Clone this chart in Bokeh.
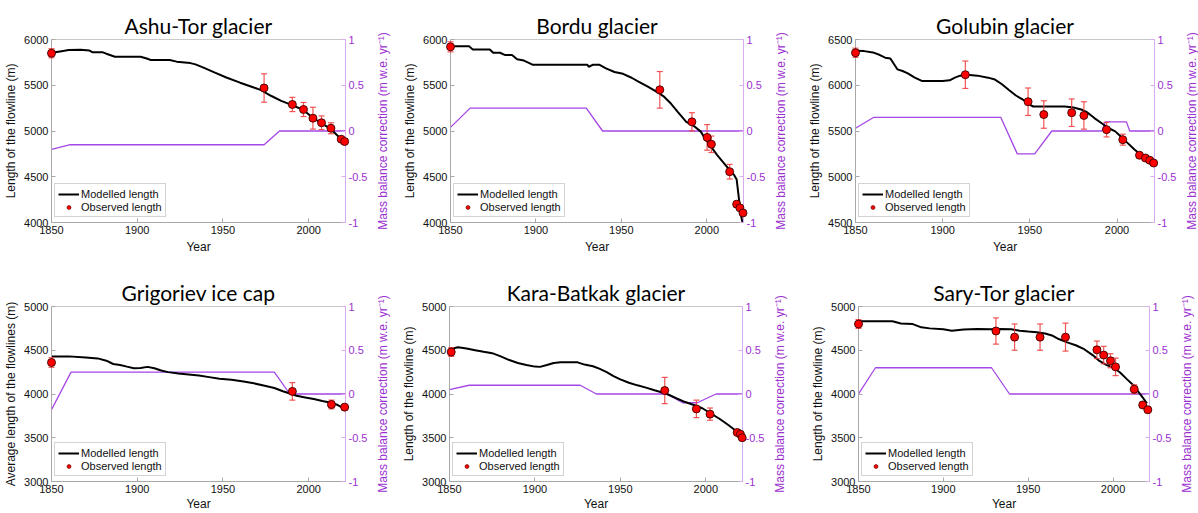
import math
from bokeh.plotting import figure
from bokeh.models import (Range1d, LinearAxis, FixedTicker, ColumnDataSource,
                          Legend, LegendItem, CustomJSTickFormatter)
from bokeh.core.properties import value
from bokeh.layouts import row, column
from bokeh.embed import file_html
from bokeh.resources import INLINE

# ---------------- data ----------------
year_ticks = [1850, 1900, 1950, 2000]
mb_ticks = [-1, -0.5, 0, 0.5, 1]

ashu_model_year = [1850, 1855, 1860, 1867, 1872, 1874, 1880, 1882, 1887, 1902, 1906, 1908, 1919, 1923,
                   1931, 1934, 1939, 1945, 1952, 1960, 1968, 1972, 1978, 1984, 1990, 1997, 2002, 2007,
                   2013, 2018, 2021]
ashu_model_len = [5855, 5870, 5885, 5888, 5880, 5860, 5860, 5845, 5812, 5812, 5790, 5775, 5775, 5758,
                  5742, 5728, 5690, 5640, 5585, 5528, 5475, 5450, 5385, 5330, 5285, 5230, 5150, 5090,
                  5020, 4930, 4870]
ashu_obs_year = [1850, 1974, 1990.5, 1997, 2002.5, 2007.5, 2013, 2019, 2021]
ashu_obs_len = [5850, 5470, 5290, 5235, 5140, 5090, 5030, 4910, 4885]
ashu_obs_err = [50, 155, 78, 77, 119, 75, 60, 30, 30]
ashu_mb_year = [1850, 1861, 1974, 1983, 2021.5]
ashu_mb_val = [-0.2, -0.15, -0.15, 0, 0]

bordu_model_year = [1850, 1861, 1863, 1873, 1875, 1879, 1882, 1886, 1889, 1893, 1898, 1930, 1931,
                    1933.5, 1937, 1941, 1946, 1951, 1956, 1960, 1965.5, 1970, 1975, 1979, 1983, 1988,
                    1993, 1996.5, 1999.4, 2003, 2006, 2010, 2014, 2016, 2017.5, 2019, 2020, 2021]
bordu_model_len = [5925, 5925, 5890, 5890, 5855, 5855, 5830, 5830, 5785, 5770, 5725, 5725, 5702,
                   5725, 5725, 5684, 5645, 5625, 5582, 5540, 5484, 5436, 5375, 5300, 5210, 5100,
                   5047, 4993, 4905, 4815, 4740, 4650, 4560, 4520, 4470, 4230, 4085, 3990]
bordu_obs_year = [1850, 1972.5, 1991.3, 2000.2, 2002.7, 2013.4, 2017.5, 2019.4, 2021.2]
bordu_obs_len = [5920, 5450, 5100, 4930, 4855, 4555, 4200, 4160, 4105]
bordu_obs_err = [55, 200, 100, 140, 90, 80, 30, 25, 25]
bordu_mb_year = [1850, 1861.5, 1929.5, 1939, 2021.5]
bordu_mb_val = [0.04, 0.25, 0.25, 0, 0]

golubin_model_year = [1850, 1855, 1860, 1864, 1867, 1870, 1874, 1877, 1880, 1884, 1888, 1900, 1904,
                      1907, 1910, 1914, 1920, 1926, 1930, 1934, 1938, 1942, 1946, 1950, 1952, 1955,
                      1970, 1975, 1980, 1983, 1987, 1991, 1995, 1999, 2002, 2006, 2010, 2014, 2018, 2021]
golubin_model_len = [6377, 6373, 6359, 6330, 6301, 6293, 6174, 6156, 6130, 6083, 6047, 6047, 6054,
                     6083, 6105, 6115, 6105, 6083, 6062, 6011, 5949, 5888, 5844, 5786, 5768, 5768,
                     5768, 5757, 5732, 5703, 5641, 5587, 5533, 5496, 5442, 5370, 5297, 5235, 5188, 5152]
golubin_obs_year = [1850, 1913, 1949, 1958, 1974, 1981, 1994, 2003.3, 2012.9, 2016.3, 2018.8, 2021]
golubin_obs_len = [6355, 6115, 5820, 5680, 5700, 5670, 5515, 5405, 5235, 5205, 5180, 5150]
golubin_obs_err = [50, 150, 150, 150, 150, 150, 80, 60, 30, 25, 25, 25]
golubin_mb_year = [1850, 1860.5, 1933.3, 1942.8, 1952.8, 1962.6, 1991.4, 1993.3, 2005.4, 2007.3, 2021.5]
golubin_mb_val = [0.03, 0.15, 0.15, -0.25, -0.25, 0, 0, 0.1, 0.1, 0, 0]

grig_model_year = [1850, 1860, 1870, 1877, 1882, 1886, 1890, 1894, 1898, 1902, 1906, 1910, 1914, 1918,
                   1924, 1930, 1936, 1942, 1948, 1955, 1962, 1968, 1975, 1980, 1985, 1989, 1993, 1998,
                   2003, 2008, 2013, 2017, 2021]
grig_model_len = [4430, 4430, 4418, 4407, 4381, 4343, 4332, 4313, 4295, 4298, 4310, 4295, 4268, 4250,
                  4234, 4223, 4212, 4193, 4174, 4163, 4144, 4122, 4092, 4069, 4032, 4006, 3979, 3961,
                  3942, 3919, 3901, 3874, 3829]
grig_obs_year = [1850, 1990.5, 2013.3, 2021]
grig_obs_len = [4360, 4030, 3880, 3850]
grig_obs_err = [55, 100, 50, 30]
grig_mb_year = [1850, 1861.4, 1980, 1989, 2021.5]
grig_mb_val = [-0.18, 0.25, 0.25, 0, 0]

kara_model_year = [1850, 1855, 1860, 1865, 1870, 1875, 1880, 1885, 1890, 1895, 1900, 1903, 1907, 1911,
                   1915, 1925, 1929, 1934, 1938, 1942, 1946, 1950, 1955, 1960, 1965, 1970, 1974, 1978,
                   1983, 1988, 1993, 1998, 2003, 2008, 2013, 2018, 2021]
kara_model_len = [4512, 4535, 4520, 4501, 4482, 4467, 4430, 4388, 4355, 4332, 4313, 4310, 4332, 4355,
                  4362, 4362, 4336, 4317, 4287, 4250, 4205, 4167, 4129, 4099, 4073, 4043, 4021, 3994,
                  3949, 3908, 3874, 3837, 3777, 3717, 3649, 3574, 3514]
kara_obs_year = [1851, 1976, 1994.5, 2002.5, 2018.4, 2020.3, 2021.3]
kara_obs_len = [4480, 4040, 3830, 3770, 3560, 3540, 3500]
kara_obs_err = [50, 150, 100, 70, 30, 30, 25]
kara_mb_year = [1850, 1861.5, 1926.5, 1936, 1977, 1986.5, 1995, 2006, 2021.5]
kara_mb_val = [0.05, 0.1, 0.1, 0, 0, -0.1, -0.1, 0, 0]

sary_model_year = [1850, 1870, 1875, 1882, 1887, 1892, 1900, 1905, 1912, 1920, 1928, 1933, 1940, 1945,
                   1950, 1955, 1960, 1964, 1968, 1973, 1978, 1983, 1988, 1992, 1996, 2000, 2004, 2008,
                   2012, 2016, 2020]
sary_model_len = [4832, 4832, 4806, 4799, 4762, 4750, 4739, 4724, 4736, 4743, 4739, 4743, 4739, 4724,
                  4713, 4706, 4691, 4669, 4628, 4590, 4557, 4512, 4445, 4378, 4333, 4303, 4248, 4173,
                  4099, 3998, 3894]
sary_obs_year = [1850, 1931, 1942, 1957, 1972, 1990.5, 1994.5, 1998.5, 2001.5, 2012.5, 2017.5, 2020.5]
sary_obs_len = [4800, 4720, 4650, 4650, 4650, 4505, 4445, 4380, 4310, 4055, 3875, 3820]
sary_obs_err = [50, 150, 150, 150, 160, 100, 100, 80, 100, 50, 30, 30]
sary_mb_year = [1850, 1860, 1928.4, 1939, 2021.5]
sary_mb_val = [0, 0.3, 0.3, 0, 0]

titles = ["Ashu-Tor glacier", "Bordu glacier", "Golubin glacier",
          "Grigoriev ice cap", "Kara-Batkak glacier", "Sary-Tor glacier"]
left_labels = ["Length of the flowline (m)", "Length of the flowline (m)", "Length of the flowline (m)",
               "Average length of the flowlines (m)", "Length of the flowline (m)",
               "Length of the flowline (m)"]
left_ticks = [[4000, 4500, 5000, 5500, 6000], [4000, 4500, 5000, 5500, 6000],
              [4500, 5000, 5500, 6000, 6500], [3000, 3500, 4000, 4500, 5000],
              [3000, 3500, 4000, 4500, 5000], [3000, 3500, 4000, 4500, 5000]]
right_label = "Mass balance correction (m w.e. yr\u207b\u00b9)"
legend_labels = ["Modelled length", "Observed length"]

series = [
    (ashu_model_year, ashu_model_len, ashu_obs_year, ashu_obs_len, ashu_obs_err, ashu_mb_year, ashu_mb_val),
    (bordu_model_year, bordu_model_len, bordu_obs_year, bordu_obs_len, bordu_obs_err, bordu_mb_year, bordu_mb_val),
    (golubin_model_year, golubin_model_len, golubin_obs_year, golubin_obs_len, golubin_obs_err, golubin_mb_year, golubin_mb_val),
    (grig_model_year, grig_model_len, grig_obs_year, grig_obs_len, grig_obs_err, grig_mb_year, grig_mb_val),
    (kara_model_year, kara_model_len, kara_obs_year, kara_obs_len, kara_obs_err, kara_mb_year, kara_mb_val),
    (sary_model_year, sary_model_len, sary_obs_year, sary_obs_len, sary_obs_err, sary_mb_year, sary_mb_val),
]

# ---------------- layout / style ----------------
# (width, height, left, right, top, bottom) per panel
geometry = [
    (399, 256, 51, 54, 39, 34),
    (399, 256, 51, 55, 39, 34),
    (400, 256, 57, 44, 38, 34),
    (399, 257, 51, 54, 50, 31),
    (399, 257, 50, 56, 50, 31),
    (400, 257, 60, 49, 48, 31),
]
X_START = 1850
X_END = 2021.5
PURPLE_LINE = "#A546E6"
PURPLE_TEXT = "#9B30D0"
PURPLE_AXIS = "#D9ACF2"
GRAY_AXIS = "#A8A8A8"
TEXT = "#111111"
ERR_COLOR = "#F03A3A"
TICK_FONT = "Liberation Sans"
TITLE_FONT = "Lato"


def make_panel(i):
    my, ml, oy, ol, oe, by, bv = series[i]
    w, h, bl, br, bt, bb = geometry[i]
    yt = left_ticks[i]
    p = figure(width=w, height=h,
               x_range=Range1d(X_START, X_END),
               y_range=Range1d(yt[0], yt[-1]),
               output_backend="svg", toolbar_location=None, title=titles[i],
               min_border_left=bl, min_border_right=br,
               min_border_top=bt, min_border_bottom=bb)
    p.extra_y_ranges = {"mb": Range1d(-1, 1)}
    p.xgrid.visible = False
    p.ygrid.visible = False
    p.outline_line_color = "#C8C8C8"
    p.outline_line_width = 1
    p.background_fill_color = "white"
    p.border_fill_color = "white"

    p.title.align = "center"
    p.title.text_font = TITLE_FONT
    p.title.text_font_size = "21px"
    p.title.text_font_style = "normal"
    p.title.text_color = "black"
    p.title.standoff = 3

    for ax in (p.xaxis[0], p.yaxis[0]):
        ax.axis_line_color = GRAY_AXIS
        ax.major_tick_line_color = GRAY_AXIS
        ax.major_tick_in = 4
        ax.major_tick_out = 0
        ax.minor_tick_line_color = None
        ax.major_label_text_font = TICK_FONT
        ax.major_label_text_font_size = "11px"
        ax.major_label_text_color = TEXT
        ax.axis_label_text_font = TICK_FONT
        ax.axis_label_text_font_size = "12px"
        ax.axis_label_text_font_style = "normal"
        ax.axis_label_text_color = TEXT
        ax.major_label_standoff = 3
    p.xaxis[0].ticker = FixedTicker(ticks=year_ticks)
    p.xaxis[0].axis_label = "Year"
    p.xaxis[0].axis_label_standoff = 3 if i < 3 else 1
    p.yaxis[0].ticker = FixedTicker(ticks=yt)
    p.yaxis[0].axis_label = left_labels[i]
    p.yaxis[0].axis_label_standoff = 3

    rax = LinearAxis(y_range_name="mb", ticker=FixedTicker(ticks=mb_ticks),
                     formatter=CustomJSTickFormatter(code="return tick.toString();"))
    rax.axis_line_color = PURPLE_AXIS
    rax.major_tick_line_color = PURPLE_AXIS
    rax.major_tick_in = 4
    rax.major_tick_out = 0
    rax.minor_tick_line_color = None
    rax.major_label_text_font = TICK_FONT
    rax.major_label_text_font_size = "11px"
    rax.major_label_text_color = PURPLE_TEXT
    rax.major_label_standoff = 3
    p.add_layout(rax, "right")

    # right axis title, reading bottom-to-top like the reference (overlay level: not clipped)
    p.text(x=[X_END], y=[0], text=[right_label], y_range_name="mb", x_offset=37,
           angle=math.pi / 2, text_align="center", text_baseline="middle",
           text_font=value(TICK_FONT), text_font_size=value("12px"), text_color=PURPLE_TEXT,
           level="overlay")

    # mass balance correction
    p.line(by, bv, y_range_name="mb", line_color=PURPLE_LINE, line_width=1.3)
    # modelled length
    model = p.line(my, ml, line_color="black", line_width=2)
    # observations with error bars (overlay level: not cut off at the axes)
    up = [v + e for v, e in zip(ol, oe)]
    lo = [v - e for v, e in zip(ol, oe)]
    src = ColumnDataSource(dict(x=oy, y=ol, up=up, lo=lo))
    p.segment(x0="x", y0="lo", x1="x", y1="up", source=src, line_color=ERR_COLOR,
              line_alpha=0.85, line_width=1.2, level="overlay")
    p.scatter(x="x", y="up", source=src, marker="dash", size=6, line_color=ERR_COLOR,
              line_alpha=0.85, line_width=1.2, level="overlay")
    p.scatter(x="x", y="lo", source=src, marker="dash", size=6, line_color=ERR_COLOR,
              line_alpha=0.85, line_width=1.2, level="overlay")
    p.scatter(x="x", y="y", source=src, size=8, fill_color="#FF0000", line_color="#3A0000",
              line_width=0.9, level="overlay")
    # legend proxy: small dot as in the reference legend
    proxy = p.scatter(x=[float("nan")], y=[float("nan")], size=4, fill_color="#FF0000",
                      line_color="#5A0000", line_width=0.6)

    leg = Legend(items=[LegendItem(label=legend_labels[0], renderers=[model]),
                        LegendItem(label=legend_labels[1], renderers=[proxy])],
                 location=(3, 5))
    leg.margin = 0
    leg.padding = 3
    leg.spacing = 0
    leg.label_standoff = 2
    leg.glyph_width = 21
    leg.glyph_height = 10
    leg.label_height = 13
    leg.label_text_font = TICK_FONT
    leg.label_text_font_size = "11px"
    leg.label_text_color = TEXT
    leg.border_line_color = "#A8A8A8"
    leg.border_line_width = 1
    leg.background_fill_alpha = 1
    p.add_layout(leg)
    return p


panels = [make_panel(i) for i in range(6)]
layout = column(row(*panels[:3], spacing=0), row(*panels[3:], spacing=0), spacing=0)

open("out.html", "w").write(file_html(layout, INLINE))
